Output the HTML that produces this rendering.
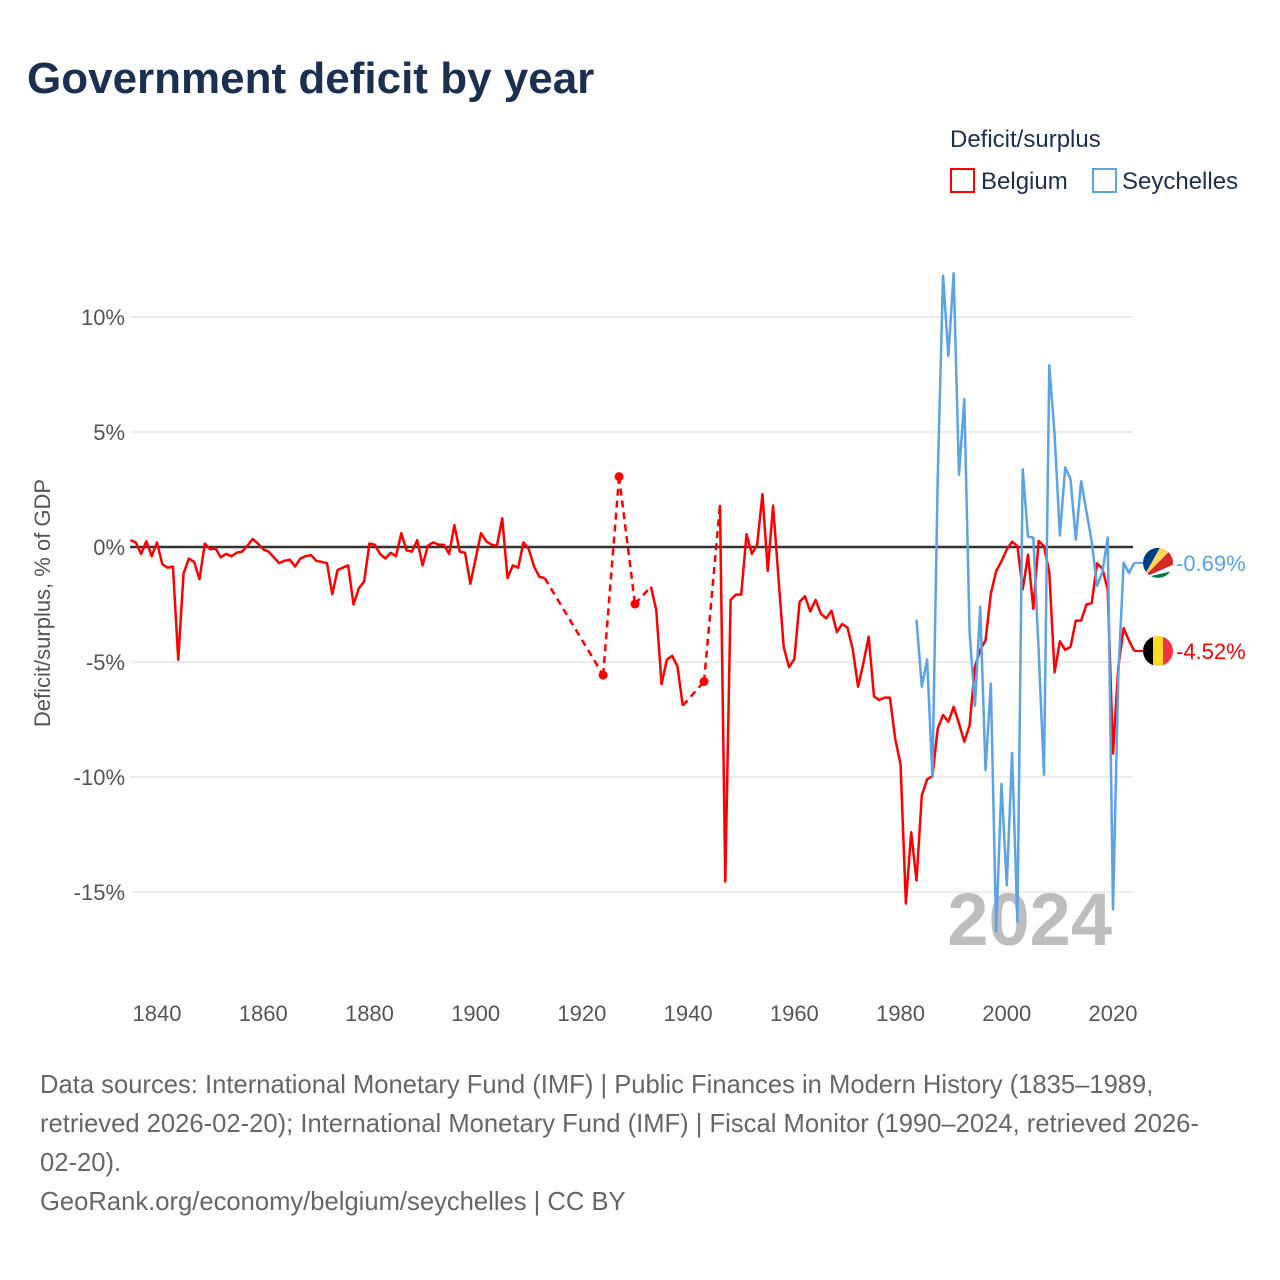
<!DOCTYPE html>
<html><head><meta charset="utf-8">
<style>
body{margin:0;background:#fff;}
svg{display:block;font-family:"Liberation Sans",sans-serif;}
</style></head>
<body>
<svg id="chart" width="1280" height="1280" viewBox="0 0 1280 1280">
<text x="27" y="93" font-size="44" font-weight="bold" fill="#1b3050">Government deficit by year</text>
<text x="950" y="147" font-size="24" fill="#1b3050">Deficit/surplus</text>
<g>
<rect x="951" y="169" width="23" height="23" fill="none" stroke="#ff0000" stroke-width="2"/>
<text x="981" y="189" font-size="24" fill="#1b3050">Belgium</text></g>
<g>
<rect x="1093" y="169" width="23" height="23" fill="none" stroke="#5ba3e6" stroke-width="2"/>
<text x="1122" y="189" font-size="24" fill="#1b3050">Seychelles</text></g>
<text transform="translate(50,603) rotate(-90)" text-anchor="middle" font-size="22" fill="#555">Deficit/surplus, % of GDP</text>
<g id="grid"></g>
<text x="1112" y="945" text-anchor="end" font-size="74" font-weight="bold" fill="#bdbdbd">2024</text>
<g id="series"></g>
<g id="endlabels"></g>
<g font-size="25.6" fill="#666">
<text x="40" y="1093">Data sources: International Monetary Fund (IMF) | Public Finances in Modern History (1835–1989,</text>
<text x="40" y="1132">retrieved 2026-02-20); International Monetary Fund (IMF) | Fiscal Monitor (1990–2024, retrieved 2026-</text>
<text x="40" y="1171">02-20).</text>
<text x="40" y="1210">GeoRank.org/economy/belgium/seychelles | CC BY</text>
</g>
</svg>
<script>
const yTicks=[10,5,0,-5,-10,-15];
const xTicks=[1840,1860,1880,1900,1920,1940,1960,1980,2000,2020];
const belgiumStart=1835;
const belgiumValues=[0.3,0.2,-0.3,0.25,-0.4,0.2,-0.75,-0.9,-0.85,-4.9,-1.15,-0.5,-0.65,-1.4,0.15,-0.1,-0.05,-0.45,-0.3,-0.4,-0.25,-0.2,0.05,0.35,0.15,-0.1,-0.2,-0.45,-0.7,-0.6,-0.55,-0.85,-0.5,-0.4,-0.35,-0.6,-0.65,-0.7,-2.05,-1.0,-0.9,-0.8,-2.5,-1.8,-1.5,0.15,0.1,-0.3,-0.5,-0.25,-0.4,0.6,-0.15,-0.2,0.3,-0.8,0.05,0.2,0.1,0.1,-0.3,0.95,-0.2,-0.25,-1.6,-0.5,0.6,0.25,0.1,0.05,1.25,-1.35,-0.8,-0.9,0.2,-0.1,-0.85,-1.3,-1.35,
null,null,null,null,null,null,null,null,null,null,-5.57,null,null,3.06,null,null,-2.48,null,null,
-1.72,-2.74,-5.96,-4.9,-4.73,-5.2,-6.9,null,null,null,-5.85,null,null,
1.83,-14.55,-2.3,-2.07,-2.07,0.56,-0.3,0.1,2.3,-1.04,1.8,-1.3,-4.35,-5.22,-4.87,-2.38,-2.14,-2.8,-2.3,-2.9,-3.1,-2.77,-3.7,-3.35,-3.5,-4.45,-6.07,-5.05,-3.9,-6.5,-6.65,-6.55,-6.55,-8.35,-9.45,-15.5,-12.4,-14.5,-10.8,-10.1,-9.96,-7.9,-7.3,-7.6,-6.95,-7.67,-8.46,-7.76,-5.22,-4.47,-4.06,-2.03,-1.05,-0.62,-0.11,0.23,0.04,-1.84,-0.34,-2.69,0.26,0.04,-1.09,-5.45,-4.1,-4.47,-4.34,-3.2,-3.2,-2.5,-2.44,-0.71,-0.94,-1.84,-8.98,-5.22,-3.53,-4.06,-4.52];
const seychellesStart=1983;
const seychellesValues=[-3.16,-6.07,-4.89,-10.0,3.05,11.8,8.3,11.9,3.14,6.43,-3.72,-6.9,-2.6,-9.7,-5.94,-16.7,-10.3,-14.7,-8.95,-16.3,3.38,0.45,0.41,-4.5,-9.9,7.9,4.9,0.5,3.46,2.95,0.32,2.86,1.54,0.22,-1.69,-1.09,0.41,-15.75,-5.6,-0.68,-1.13,-0.69];
const NS="http://www.w3.org/2000/svg";
const X0=130,X1=1133,Y0=547,PX=23;
function xs(yr){return 157+(yr-1840)*(1113-157)/180;}
function ys(v){return Y0-v*PX;}
function mk(tag,attrs,parent){const e=document.createElementNS(NS,tag);for(const k in attrs)e.setAttribute(k,attrs[k]);parent.appendChild(e);return e;}
const grid=document.getElementById('grid');
yTicks.forEach(t=>{
  const l=mk('line',{x1:X0,x2:X1,y1:ys(t),y2:ys(t),stroke:t===0?'#333':'#e6e6e6','stroke-width':t===0?2.5:1.5},grid);
  
  
  const tx=mk('text',{x:125,y:ys(t)+8,'text-anchor':'end','font-size':22,fill:'#555'},grid);
  tx.textContent=t+'%';
  
  
});
xTicks.forEach(t=>{
  const tx=mk('text',{x:xs(t),y:1021,'text-anchor':'middle','font-size':22,fill:'#555'},grid);
  tx.textContent=t;
  
  
});
const series=document.getElementById('series');
function drawSeries(start,vals,color,name){
  const g=mk('g',{},series);
  
  
  const pts=[];vals.forEach((v,i)=>{if(v!==null)pts.push([start+i,v]);});
  let seg=[];
  const flush=()=>{if(seg.length>1){mk('polyline',{points:seg.map(p=>xs(p[0])+','+ys(p[1])).join(' '),fill:'none',stroke:color,'stroke-width':2.5,'stroke-linejoin':'round'},g);}seg=[];};
  for(let i=0;i<pts.length;i++){
    if(i>0&&pts[i][0]-pts[i-1][0]>1){
      flush();
      mk('line',{x1:xs(pts[i-1][0]),y1:ys(pts[i-1][1]),x2:xs(pts[i][0]),y2:ys(pts[i][1]),stroke:color,'stroke-width':2.5,'stroke-dasharray':'7,5'},g);
    }
    seg.push(pts[i]);
  }
  flush();
  pts.forEach((p,i)=>{
    const prevGap=i===0||p[0]-pts[i-1][0]>1, nextGap=i===pts.length-1||pts[i+1][0]-p[0]>1;
    if(prevGap&&nextGap){const c=mk('circle',{cx:xs(p[0]),cy:ys(p[1]),r:4.5,fill:color},g);
      
      }
  });
  return pts[pts.length-1];
}
const lb=drawSeries(belgiumStart,belgiumValues,'#ff0000','belgium');
const ls=drawSeries(seychellesStart,seychellesValues,'#5ba3e6','seychelles');
const el=document.getElementById('endlabels');
const fx=1158;
mk('line',{x1:xs(ls[0]),y1:ys(ls[1]),x2:fx,y2:ys(ls[1]),stroke:'#5ba3e6','stroke-width':2},el);
mk('line',{x1:xs(lb[0]),y1:ys(lb[1]),x2:fx,y2:ys(lb[1]),stroke:'#ff0000','stroke-width':2},el);
const by=ys(lb[1]);
const bf=mk('g',{},el);


mk('clipPath',{id:'cb'},bf);
mk('circle',{cx:fx,cy:by,r:15},document.getElementById('cb'));
mk('rect',{x:fx-15,y:by-15,width:10,height:30,fill:'#000','clip-path':'url(#cb)'},bf);
mk('rect',{x:fx-5,y:by-15,width:10,height:30,fill:'#fdda24','clip-path':'url(#cb)'},bf);
mk('rect',{x:fx+5,y:by-15,width:10,height:30,fill:'#ef3340','clip-path':'url(#cb)'},bf);
const sy=ys(ls[1]);
const sf=mk('g',{},el);


mk('clipPath',{id:'cs'},sf);
mk('circle',{cx:fx,cy:sy,r:15},document.getElementById('cs'));
const bx=fx-15,byy=sy+15;
const cols=['#003f87','#fcd856','#d62828','#fff','#007a3d'];
const ends=[[fx-15,sy-15,fx+2,sy-15],[fx+2,sy-15,fx+15,sy-15],[fx+15,sy-15,fx+15,sy+2],[fx+15,sy+2,fx+15,sy+8],[fx+15,sy+8,fx+15,sy+15]];
ends.forEach((e,i)=>{mk('polygon',{points:`${bx},${byy} ${e[0]},${e[1]} ${e[2]},${e[3]}`+(i===1?` ${fx+15},${sy-15}`:''),fill:cols[i],'clip-path':'url(#cs)'},sf);});
const t1=mk('text',{x:1176,y:sy+8,'font-size':22,fill:'#5ba3e6'},el);
t1.textContent=ls[1].toFixed(2)+'%';


const t2=mk('text',{x:1176,y:by+8,'font-size':22,fill:'#ff0000'},el);
t2.textContent=lb[1].toFixed(2)+'%';


</script>
</body></html>
